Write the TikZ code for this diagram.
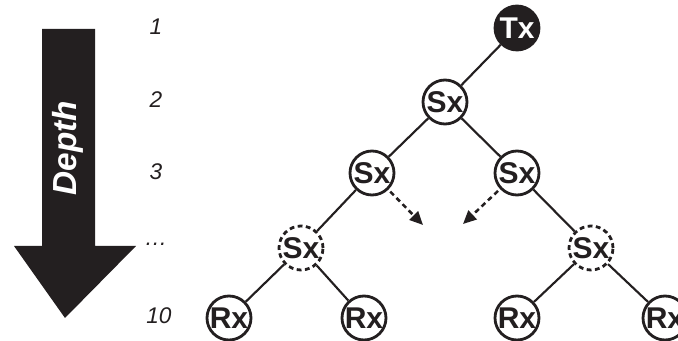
\documentclass[tikz,border=0pt]{standalone}
\usepackage{fontspec}
\setmainfont{Liberation Sans}
\usepackage{tikz}
\usetikzlibrary{arrows.meta,positioning}

\definecolor{ink}{HTML}{231F20}

\begin{document}
\begin{tikzpicture}
  [
    x=0.75pt,y=-0.75pt,
    hop/.style={circle,draw=ink,line width=2.1pt,inner sep=0pt,minimum size=33pt,font=\fontsize{22.5}{22.5}\selectfont\bfseries,text=ink},
    source/.style={hop,fill=ink,text=white},
    relay/.style={hop,fill=white},
    far relay/.style={hop,fill=white,dash pattern=on 3.6pt off 2.6pt},
    sink/.style={hop,fill=white},
    link/.style={draw=ink,line width=1.6pt},
    hint/.style={draw=ink,line width=1.9pt,dash pattern=on 3.8pt off 2.8pt,-{Triangle[length=10pt,width=9pt]}},
    level/.style={font=\fontsize{17}{17}\selectfont\itshape,text=ink}
  ]
  \useasboundingbox (0,0) rectangle (678,341);
  \clip (0,0) rectangle (678,341);

  % depth arrow
  \fill[ink] (42,29) -- (95,29) -- (95,246) -- (136,246) -- (65,318) -- (14,246) -- (42,246) -- cycle;
  \node[rotate=90,text=white,font=\fontsize{25}{25}\selectfont\bfseries\itshape] (depth) at (68,148) {Depth};

  % level numbers
  \node[level] (l1) at (156,27) {1};
  \node[level] (l2) at (156,100) {2};
  \node[level] (l3) at (156,172) {3};
  \node[level] (ldots) at (156,244) {\dots};
  \node[level] (l10) at (159,316) {10};

  % tree
  \node[source] (tx) at (517,28) {Tx};
  \node[relay] (sx) at (445,102) {Sx};
  \node[relay] (sxl) at (372,173) {Sx};
  \node[relay] (sxr) at (517,173) {Sx};
  \node[far relay] (sxdl) at (301,248) {Sx};
  \node[far relay] (sxdr) at (591,248) {Sx};
  \node[sink] (rx1) at (229,318) {Rx};
  \node[sink] (rx2) at (364,318) {Rx};
  \node[sink] (rx3) at (517,318) {Rx};
  \node[sink] (rx4) at (665,318) {Rx};

  \path[link] (tx) -- (sx);
  \path[link] (sx) -- (sxl);
  \path[link] (sx) -- (sxr);
  \path[link] (sxl) -- (sxdl);
  \path[link] (sxr) -- (sxdr);
  \path[link] (sxdl) -- (rx1);
  \path[link] (sxdl) -- (rx2);
  \path[link] (sxdr) -- (rx3);
  \path[link] (sxdr) -- (rx4);

  % hidden levels
  \coordinate (gapl) at (423,225);
  \coordinate (gapr) at (463,224);
  \draw[hint,shorten <=2pt] (sxl) -- (gapl);
  \draw[hint,shorten <=2pt] (sxr) -- (gapr);
\end{tikzpicture}
\end{document}
